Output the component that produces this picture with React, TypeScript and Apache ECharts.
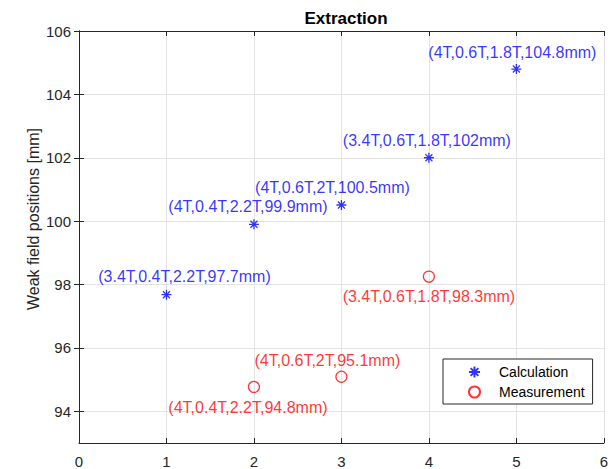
import React, { useEffect, useRef } from "react";
import * as echarts from "echarts";

const calcX = [1, 2, 3, 4, 5];
const calcY = [97.68, 99.9, 100.51, 102, 104.8];
const calcLabels = [
  "(3.4T,0.4T,2.2T,97.7mm)",
  "(4T,0.4T,2.2T,99.9mm)",
  "(4T,0.6T,2T,100.5mm)",
  "(3.4T,0.6T,1.8T,102mm)",
  "(4T,0.6T,1.8T,104.8mm)",
];
const calcOffsets = [[18, -18], [-6, -18], [-9, -17], [-2, -17], [-4, -17]];

const measX = [2, 3, 4];
const measY = [94.77, 95.09, 98.25];
const measLabels = [
  "(4T,0.4T,2.2T,94.8mm)",
  "(4T,0.6T,2T,95.1mm)",
  "(3.4T,0.6T,1.8T,98.3mm)",
];
const measOffsets = [[-6, 21], [-14, -16], [0, 20]];

const yTicks = [94, 96, 98, 100, 102, 104, 106];

const FONT = "Liberation Sans, Arial, Helvetica, sans-serif";
const AX = "#262626";
const GRID = "#e3e3e3";

export default function App() {
  const ref = useRef<HTMLDivElement>(null);
  useEffect(() => {
    const chart = echarts.init(ref.current!, null, { renderer: "svg" });
    const star = "path://M5,0L5,10M0,5L10,5M1.5,1.5L8.5,8.5M8.5,1.5L1.5,8.5";
    const tick = { show: true, inside: true, length: 5, lineStyle: { color: AX } };
    chart.setOption({
      animation: false,
      textStyle: { fontFamily: FONT },
      title: {
        text: "Extraction",
        left: 341,
        textAlign: "center",
        top: 5,
        textStyle: { fontSize: 17, fontWeight: "bold", color: "#000", fontFamily: FONT },
      },
      grid: { left: 79, right: 7, top: 31, bottom: 26, containLabel: false },
      xAxis: [
        {
          type: "value", min: 0, max: 6, interval: 1, position: "bottom",
          axisLine: { show: true, lineStyle: { color: AX } },
          axisTick: tick,
          axisLabel: { fontSize: 15, color: AX, margin: 11, fontFamily: FONT },
          splitLine: { show: true, lineStyle: { color: GRID } },
        },
        {
          type: "value", min: 0, max: 6, interval: 1, position: "top",
          axisLine: { show: true, lineStyle: { color: AX } },
          axisTick: tick,
          axisLabel: { show: false },
          splitLine: { show: false },
        },
      ],
      yAxis: [
        {
          type: "value", min: 93, max: 106, position: "left",
          axisLine: { show: true, lineStyle: { color: AX } },
          axisTick: { ...tick, customValues: yTicks },
          axisLabel: { fontSize: 15, color: AX, margin: 8, fontFamily: FONT, customValues: yTicks },
          splitLine: { show: true, lineStyle: { color: GRID } },
        },
        {
          type: "value", min: 93, max: 106, position: "right",
          axisLine: { show: true, lineStyle: { color: AX } },
          axisTick: { ...tick, customValues: yTicks },
          axisLabel: { show: false, customValues: yTicks },
          splitLine: { show: false },
        },
      ],
      graphic: [
        {
          type: "text",
          x: 33,
          y: 219,
          rotation: Math.PI / 2,
          style: {
            text: "Weak field positions [mm]",
            fontSize: 16,
            fontFamily: FONT,
            fill: AX,
            align: "center",
            verticalAlign: "middle",
          },
        },
      ],
      legend: {
        orient: "vertical",
        left: 443,
        top: 359,
        backgroundColor: "#fff",
        borderColor: AX,
        borderWidth: 1,
        borderRadius: 0,
        padding: [6, 8, 5, 25],
        itemGap: 6,
        itemWidth: 11,
        itemHeight: 11,
        textStyle: { fontSize: 14, color: "#000", fontFamily: FONT, padding: [0, 0, 0, 14] },
        data: ["Calculation", "Measurement"],
      },
      series: [
        {
          name: "Calculation",
          type: "scatter",
          xAxisIndex: 0,
          yAxisIndex: 0,
          symbol: star,
          symbolSize: 10,
          itemStyle: { color: "transparent", borderColor: "#0000ff", borderWidth: 1.3 },
          label: {
            show: true, position: "inside", fontSize: 16, color: "#0000ff", fontFamily: FONT,
            textBorderWidth: 0,
          },
          data: calcX.map((x, i) => ({
            value: [x, calcY[i]],
            label: { formatter: calcLabels[i], offset: calcOffsets[i] },
          })),
          z: 5,
        },
        {
          name: "Measurement",
          type: "scatter",
          xAxisIndex: 0,
          yAxisIndex: 0,
          symbol: "circle",
          symbolSize: 11,
          itemStyle: { color: "transparent", borderColor: "#ff0000", borderWidth: 1.2 },
          label: {
            show: true, position: "inside", fontSize: 16, color: "#ff0000", fontFamily: FONT,
            textBorderWidth: 0,
          },
          data: measX.map((x, i) => ({
            value: [x, measY[i]],
            label: { formatter: measLabels[i], offset: measOffsets[i] },
          })),
          z: 5,
        },
      ],
    });
    return () => chart.dispose();
  }, []);
  return <div ref={ref} style={{ width: 611, height: 469, position: "absolute", left: 0, top: 0 }} />;
}
